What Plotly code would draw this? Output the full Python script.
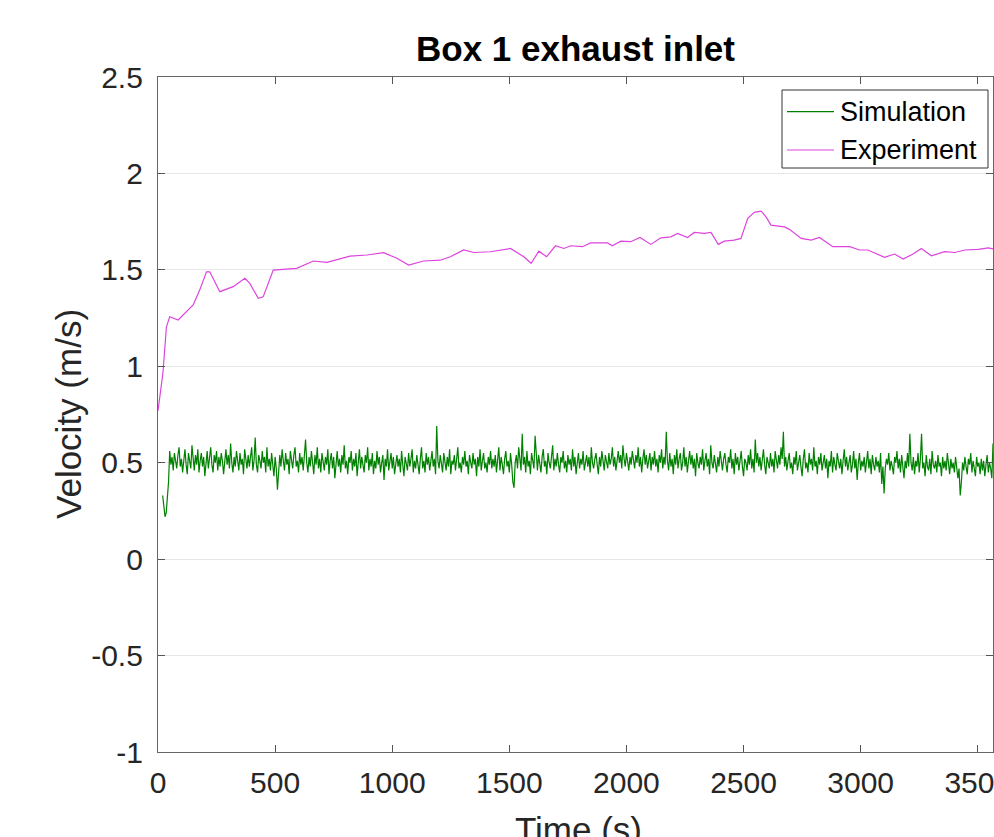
import plotly.graph_objects as go

# ---------------- data ----------------
exp_t = [0, 10, 21, 36, 50, 86, 150, 178, 207, 221, 264, 321, 371, 392, 428, 449, 492,
         592, 663, 721, 820, 892, 963, 1020, 1070, 1134, 1205, 1248, 1305, 1348, 1419,
         1505, 1562, 1593, 1626, 1659, 1697, 1733, 1762, 1812, 1847, 1919, 1940, 1976,
         2018, 2058, 2104, 2147, 2190, 2218, 2261, 2289, 2332, 2361, 2392, 2418, 2460,
         2489, 2518, 2546, 2575, 2596, 2617, 2674, 2696, 2746, 2789, 2824, 2881, 2953,
         2995, 3031, 3102, 3145, 3181, 3224, 3259, 3302, 3359, 3402, 3445, 3502, 3545, 3576]
exp_v = [0.77, 0.87, 0.965, 1.205, 1.257, 1.24, 1.318, 1.395, 1.49, 1.49, 1.387, 1.413,
         1.456, 1.43, 1.352, 1.36, 1.499, 1.508, 1.546, 1.539, 1.571, 1.577, 1.589, 1.56,
         1.525, 1.546, 1.55, 1.568, 1.603, 1.59, 1.594, 1.611, 1.568, 1.534, 1.597, 1.568,
         1.625, 1.611, 1.625, 1.62, 1.64, 1.64, 1.625, 1.649, 1.646, 1.668, 1.632, 1.666,
         1.671, 1.689, 1.668, 1.694, 1.689, 1.694, 1.632, 1.649, 1.654, 1.663, 1.767,
         1.798, 1.805, 1.775, 1.732, 1.723, 1.710, 1.663, 1.654, 1.668, 1.62, 1.62, 1.603,
         1.603, 1.565, 1.582, 1.556, 1.582, 1.611, 1.573, 1.594, 1.59, 1.603, 1.606, 1.614,
         1.606]

sim_start = 20
sim_step = 5
sim_v = [
    0.33, 0.28, 0.22, 0.24, 0.31, 0.40, 0.56, 0.49, 0.53, 0.46, 0.55, 0.50, 0.47, 0.54, 0.58, 0.48, 0.52, 0.45, 0.53, 0.57,
    0.49, 0.44, 0.55, 0.51, 0.47, 0.59, 0.52, 0.46, 0.54, 0.49, 0.57, 0.45, 0.51, 0.55, 0.48, 0.53, 0.43, 0.50, 0.56, 0.47,
    0.52, 0.58, 0.49, 0.45, 0.54, 0.50, 0.56, 0.46, 0.53, 0.48, 0.55, 0.51, 0.44, 0.52, 0.57, 0.49, 0.54, 0.47, 0.60, 0.50,
    0.45, 0.53, 0.48, 0.56, 0.51, 0.46, 0.55, 0.49, 0.52, 0.44, 0.57, 0.50, 0.47, 0.54, 0.48, 0.53, 0.58, 0.46, 0.51, 0.63,
    0.49, 0.45, 0.54, 0.51, 0.47, 0.56, 0.50, 0.53, 0.45, 0.58, 0.48, 0.52, 0.46, 0.55, 0.50, 0.43, 0.53, 0.47, 0.36, 0.49,
    0.54, 0.48, 0.57, 0.51, 0.46, 0.55, 0.49, 0.52, 0.44, 0.56, 0.50, 0.47, 0.54, 0.58, 0.48, 0.51, 0.45, 0.55, 0.49, 0.53,
    0.46, 0.57, 0.62, 0.50, 0.45, 0.53, 0.48, 0.56, 0.51, 0.44, 0.54, 0.49, 0.58, 0.47, 0.52, 0.45, 0.55, 0.50, 0.46, 0.53,
    0.49, 0.57, 0.44, 0.51, 0.55, 0.47, 0.53, 0.42, 0.50, 0.56, 0.48, 0.52, 0.45, 0.54, 0.49, 0.59, 0.47, 0.51, 0.44, 0.53,
    0.50, 0.56, 0.46, 0.52, 0.48, 0.55, 0.43, 0.51, 0.57, 0.47, 0.53, 0.49, 0.45, 0.54, 0.50, 0.58, 0.46, 0.52, 0.48, 0.55,
    0.44, 0.51, 0.47, 0.56, 0.49, 0.53, 0.45, 0.50, 0.54, 0.41, 0.52, 0.48, 0.57, 0.46, 0.51, 0.55, 0.47, 0.53, 0.44, 0.50,
    0.54, 0.48, 0.52, 0.45, 0.56, 0.49, 0.43, 0.53, 0.50, 0.46, 0.55, 0.48, 0.52, 0.57, 0.45, 0.51, 0.47, 0.54, 0.49, 0.44,
    0.52, 0.58, 0.47, 0.51, 0.45, 0.55, 0.49, 0.53, 0.46, 0.50, 0.56, 0.48, 0.52, 0.44, 0.69, 0.51, 0.47, 0.54, 0.49, 0.45,
    0.55, 0.50, 0.46, 0.53, 0.48, 0.57, 0.44, 0.51, 0.49, 0.54, 0.46, 0.52, 0.58, 0.47, 0.50, 0.45, 0.53, 0.49, 0.56, 0.48,
    0.51, 0.44, 0.54, 0.50, 0.47, 0.55, 0.49, 0.52, 0.43, 0.53, 0.48, 0.57, 0.46, 0.51, 0.55, 0.47, 0.50, 0.45, 0.53, 0.49,
    0.56, 0.47, 0.52, 0.48, 0.54, 0.45, 0.50, 0.58, 0.46, 0.53, 0.49, 0.44, 0.52, 0.56, 0.48, 0.51, 0.45, 0.55, 0.49, 0.40,
    0.37, 0.50, 0.54, 0.47, 0.58, 0.52, 0.46, 0.65, 0.49, 0.53, 0.45, 0.56, 0.48, 0.51, 0.44, 0.55, 0.50, 0.47, 0.64, 0.52,
    0.46, 0.54, 0.49, 0.45, 0.53, 0.57, 0.48, 0.51, 0.44, 0.55, 0.50, 0.47, 0.53, 0.59, 0.46, 0.52, 0.48, 0.55, 0.49, 0.45,
    0.53, 0.50, 0.56, 0.47, 0.51, 0.45, 0.54, 0.49, 0.52, 0.46, 0.57, 0.48, 0.53, 0.44, 0.50, 0.55, 0.47, 0.52, 0.49, 0.56,
    0.46, 0.51, 0.54, 0.48, 0.53, 0.45, 0.58, 0.50, 0.47, 0.52, 0.55, 0.49, 0.44, 0.53, 0.48, 0.56, 0.51, 0.46, 0.54, 0.50,
    0.47, 0.55, 0.49, 0.52, 0.58, 0.48, 0.53, 0.46, 0.51, 0.56, 0.50, 0.54, 0.47, 0.59, 0.52, 0.48, 0.55, 0.50, 0.46, 0.53,
    0.49, 0.56, 0.51, 0.47, 0.54, 0.50, 0.58, 0.48, 0.53, 0.45, 0.52, 0.57, 0.49, 0.54, 0.47, 0.51, 0.55, 0.46, 0.53, 0.49,
    0.56, 0.48, 0.52, 0.45, 0.54, 0.50, 0.57, 0.47, 0.53, 0.49, 0.66, 0.51, 0.46, 0.55, 0.48, 0.52, 0.44, 0.54, 0.49, 0.57,
    0.47, 0.52, 0.55, 0.46, 0.50, 0.58, 0.48, 0.53, 0.45, 0.51, 0.56, 0.49, 0.54, 0.47, 0.52, 0.43, 0.55, 0.50, 0.47, 0.53,
    0.49, 0.57, 0.46, 0.51, 0.55, 0.48, 0.52, 0.44, 0.59, 0.50, 0.47, 0.54, 0.49, 0.45, 0.53, 0.48, 0.56, 0.51, 0.46, 0.52,
    0.55, 0.49, 0.45, 0.53, 0.50, 0.57, 0.47, 0.52, 0.44, 0.55, 0.49, 0.53, 0.46, 0.51, 0.56, 0.48, 0.43, 0.52, 0.50, 0.46,
    0.54, 0.49, 0.57, 0.47, 0.52, 0.45, 0.62, 0.50, 0.55, 0.48, 0.53, 0.46, 0.51, 0.57, 0.49, 0.44, 0.53, 0.50, 0.47, 0.55,
    0.48, 0.52, 0.45, 0.56, 0.50, 0.47, 0.54, 0.49, 0.58, 0.52, 0.66, 0.48, 0.53, 0.46, 0.51, 0.55, 0.47, 0.50, 0.44, 0.53,
    0.49, 0.56, 0.46, 0.51, 0.54, 0.48, 0.43, 0.52, 0.57, 0.47, 0.50, 0.45, 0.55, 0.49, 0.52, 0.46, 0.58, 0.48, 0.51, 0.44,
    0.53, 0.49, 0.55, 0.46, 0.50, 0.54, 0.47, 0.52, 0.42, 0.51, 0.48, 0.56, 0.45, 0.53, 0.49, 0.46, 0.55, 0.50, 0.47, 0.52,
    0.44, 0.51, 0.57, 0.48, 0.53, 0.46, 0.50, 0.54, 0.45, 0.49, 0.56, 0.47, 0.52, 0.41, 0.50, 0.55, 0.46, 0.51, 0.48, 0.53,
    0.45, 0.50, 0.56, 0.47, 0.52, 0.44, 0.54, 0.49, 0.46, 0.53, 0.48, 0.51, 0.45, 0.55, 0.39, 0.48, 0.34, 0.47, 0.52, 0.49,
    0.55, 0.46, 0.51, 0.48, 0.44, 0.53, 0.50, 0.56, 0.47, 0.52, 0.45, 0.54, 0.49, 0.42, 0.51, 0.47, 0.55, 0.48, 0.65, 0.50,
    0.46, 0.53, 0.44, 0.51, 0.48, 0.55, 0.45, 0.52, 0.65, 0.47, 0.50, 0.43, 0.54, 0.48, 0.46, 0.52, 0.44, 0.56, 0.49, 0.47,
    0.51, 0.45, 0.54, 0.48, 0.50, 0.43, 0.53, 0.47, 0.51, 0.46, 0.55, 0.49, 0.44, 0.52, 0.47, 0.50, 0.45, 0.53, 0.48, 0.42,
    0.47, 0.33, 0.40, 0.50, 0.46, 0.53, 0.48, 0.44, 0.52, 0.49, 0.55, 0.45, 0.51, 0.47, 0.43, 0.53, 0.48, 0.50, 0.44, 0.52,
    0.46, 0.51, 0.43, 0.49, 0.54, 0.45, 0.50, 0.47, 0.42, 0.60,
]
sim_t = [sim_start + i * sim_step for i in range(len(sim_v))]

series_names = ["Simulation", "Experiment"]
series_colors = ["#008000", "#dd44dd"]

x_ticks = [0, 500, 1000, 1500, 2000, 2500, 3000, 3500]
y_ticks = [-1, -0.5, 0, 0.5, 1, 1.5, 2, 2.5]
y_tick_text = ["-1", "-0.5", "0", "0.5", "1", "1.5", "2", "2.5"]

FONT = "Liberation Sans, Arial, Helvetica, sans-serif"
AX = "#262626"

FIG_W, FIG_H = 994, 837
# plot-area geometry in pixels
PL, PR, PT, PB = 158, 993, 77, 752
W, H = PR - PL, PB - PT


def px(x):  # pixel x -> paper fraction
    return (x - PL) / W


def py(y):  # pixel y -> paper fraction
    return (PB - y) / H


fig = go.Figure()
fig.add_trace(go.Scatter(x=sim_t, y=sim_v, mode="lines", name=series_names[0],
                         line=dict(color=series_colors[0], width=1.2), showlegend=False))
fig.add_trace(go.Scatter(x=exp_t, y=exp_v, mode="lines", name=series_names[1],
                         line=dict(color=series_colors[1], width=1.2), showlegend=False))

# legend box drawn like MATLAB's
shapes = [dict(type="rect", xref="paper", yref="paper", x0=px(782), x1=px(988),
               y0=py(168), y1=py(90), line=dict(color="#333333", width=1),
               fillcolor="white", layer="above")]
annotations = []
for i, (nm, col) in enumerate(zip(series_names, series_colors)):
    yc = py(111.7 + i * 38.3)
    shapes.append(dict(type="line", xref="paper", yref="paper", x0=px(787), x1=px(834),
                       y0=yc, y1=yc, line=dict(color=col, width=1.2), layer="above"))
    annotations.append(dict(text=nm, xref="paper", yref="paper", x=px(838), y=yc,
                            xanchor="left", yanchor="middle", showarrow=False,
                            font=dict(size=27, color="#000000", family=FONT)))

# axis titles
annotations.append(dict(text="Time (s)", xref="paper", yref="paper", x=px(578), y=py(808),
                        xanchor="center", yanchor="top", showarrow=False,
                        font=dict(size=35, color=AX, family=FONT)))
annotations.append(dict(text="Velocity (m/s)", xref="paper", yref="paper", x=px(68),
                        y=py(414), xanchor="center", yanchor="middle", textangle=-90,
                        showarrow=False, font=dict(size=35, color=AX, family=FONT)))

fig.update_layout(
    width=FIG_W, height=FIG_H,
    margin=dict(l=PL, r=FIG_W - PR, t=PT, b=FIG_H - PB),
    paper_bgcolor="white", plot_bgcolor="white",
    font=dict(family=FONT, color=AX),
    title=dict(text="<b>Box 1 exhaust inlet</b>", x=0.5, xref="paper", xanchor="center",
               y=1 - 49 / FIG_H, yref="container", yanchor="middle",
               font=dict(size=35, color="#000000", family=FONT)),
    shapes=shapes,
    annotations=annotations,
    showlegend=False,
)
fig.update_xaxes(range=[0, 3565], tickvals=x_ticks, ticks="inside", ticklen=7,
                 tickcolor="#555555", showline=True, linecolor="#666666", linewidth=1.3,
                 mirror="ticks", showgrid=False, zeroline=False, automargin=False,
                 ticklabeloverflow="allow",
                 tickfont=dict(size=30, color=AX), ticklabelstandoff=4)
fig.update_yaxes(range=[-1, 2.5], tickvals=y_ticks, ticktext=y_tick_text, ticks="inside",
                 ticklen=7, tickcolor="#555555", showline=True, linecolor="#666666",
                 linewidth=1.3, mirror="ticks", showgrid=True, gridcolor="#e6e6e6",
                 gridwidth=1.3, zeroline=False, automargin=False,
                 tickfont=dict(size=30, color=AX), ticklabelstandoff=8)

fig.write_html(
    "out.html",
    config={"displayModeBar": False},
    post_script="document.body.style.margin='0';"
                "document.body.style.overflow='hidden';"
                "document.documentElement.style.overflow='hidden';",
)
